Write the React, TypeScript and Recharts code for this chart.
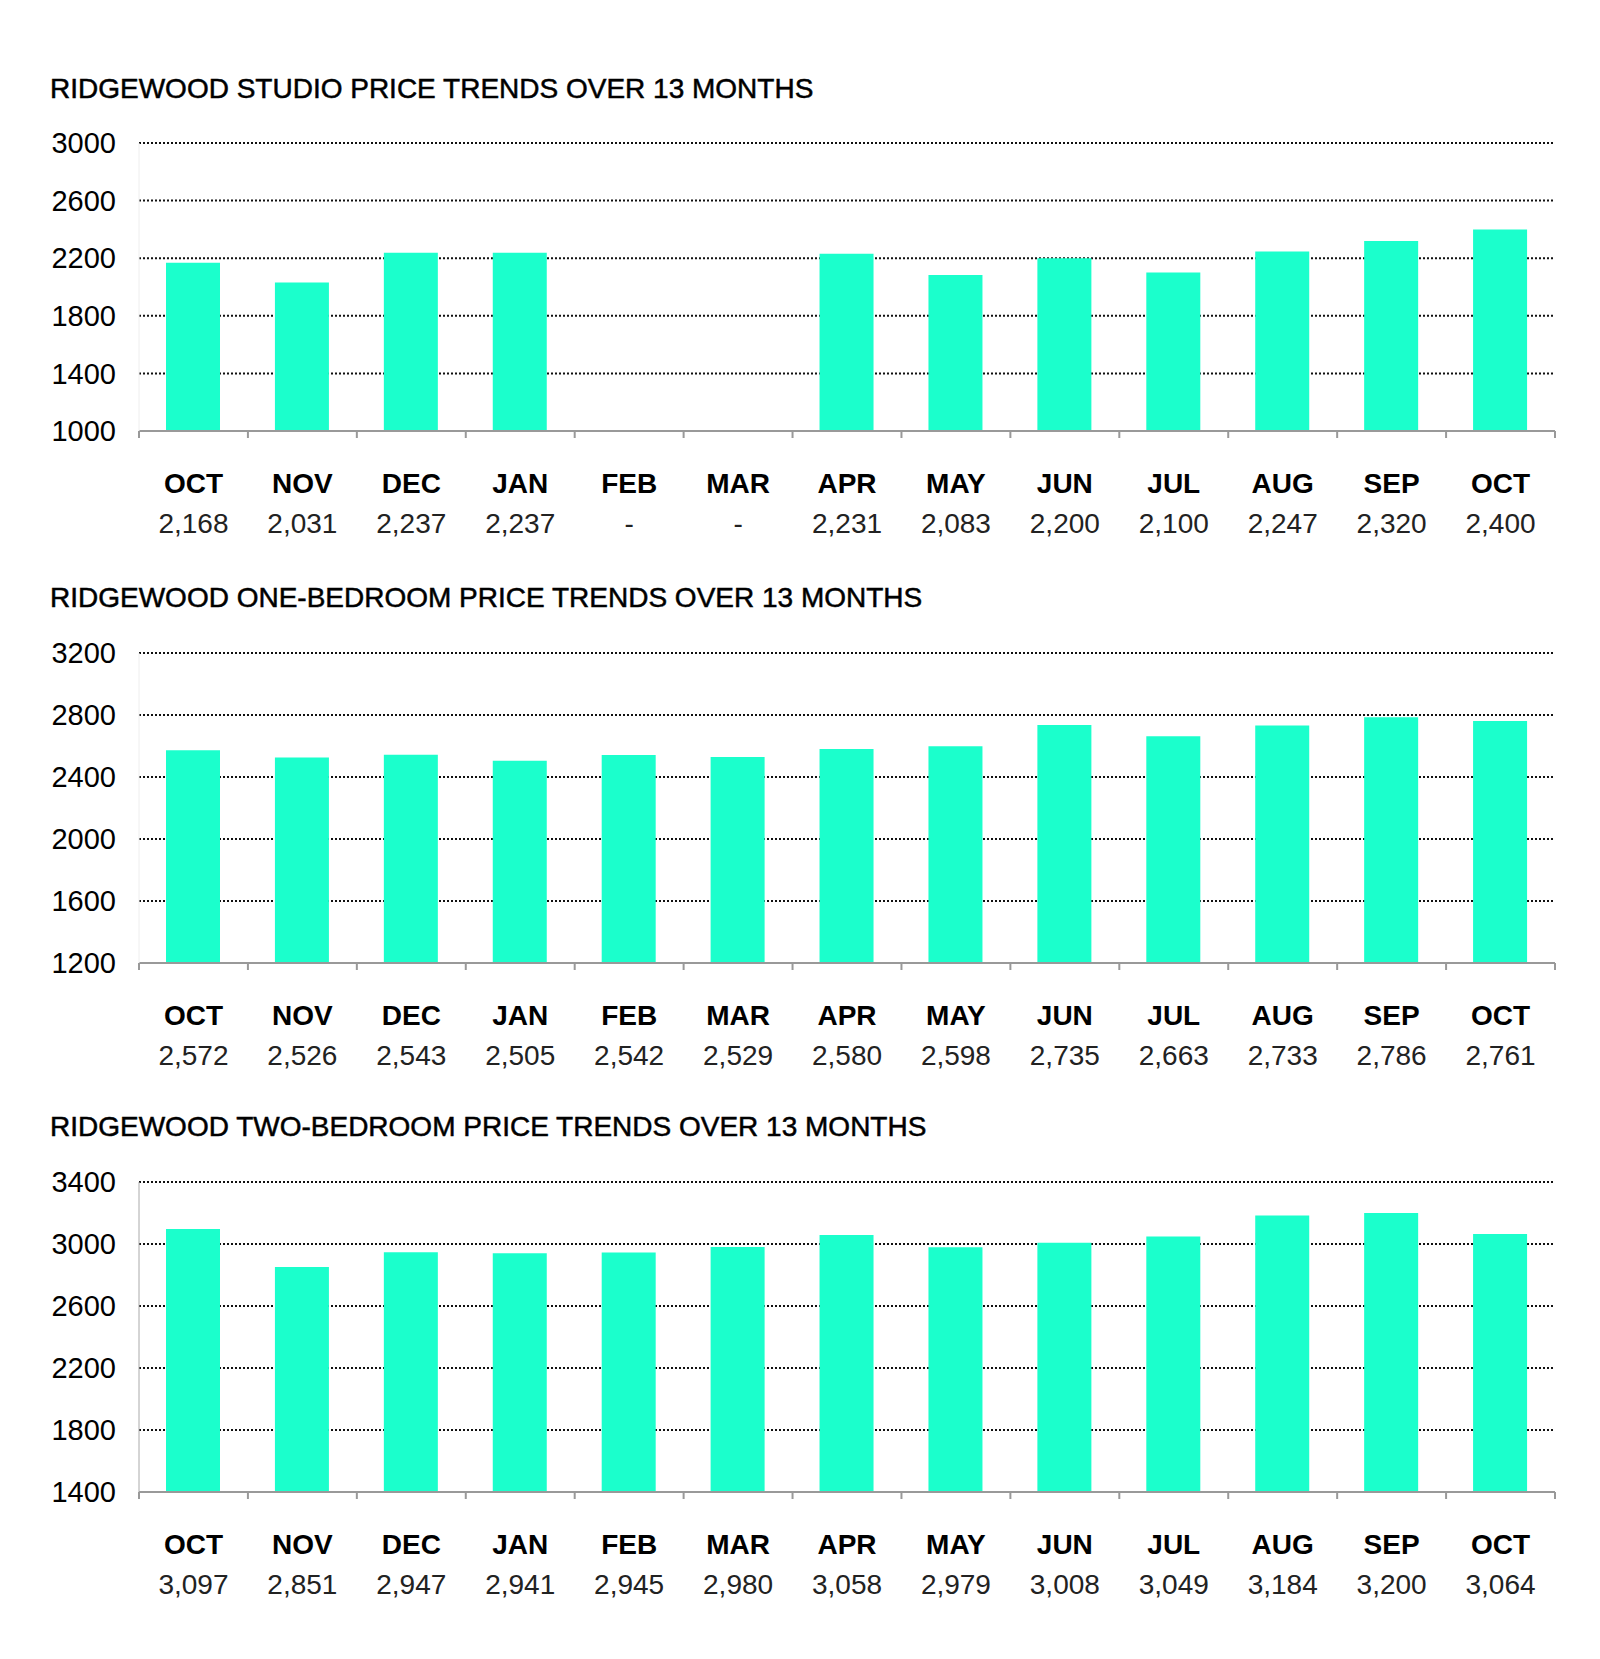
import React from "react";
import { BarChart, Bar, XAxis, YAxis, CartesianGrid } from "recharts";

const months = ["OCT", "NOV", "DEC", "JAN", "FEB", "MAR", "APR", "MAY", "JUN", "JUL", "AUG", "SEP", "OCT"];
const studioValues: (number | null)[] = [2168, 2031, 2237, 2237, null, null, 2231, 2083, 2200, 2100, 2247, 2320, 2400];
const oneBedValues: (number | null)[] = [2572, 2526, 2543, 2505, 2542, 2529, 2580, 2598, 2735, 2663, 2733, 2786, 2761];
const twoBedValues: (number | null)[] = [3097, 2851, 2947, 2941, 2945, 2980, 3058, 2979, 3008, 3049, 3184, 3200, 3064];

const studioTicks = [1000, 1400, 1800, 2200, 2600, 3000];
const oneBedTicks = [1200, 1600, 2000, 2400, 2800, 3200];
const twoBedTicks = [1400, 1800, 2200, 2600, 3000, 3400];

const titles = [
  "RIDGEWOOD STUDIO PRICE TRENDS OVER 13 MONTHS",
  "RIDGEWOOD ONE-BEDROOM PRICE TRENDS OVER 13 MONTHS",
  "RIDGEWOOD TWO-BEDROOM PRICE TRENDS OVER 13 MONTHS",
];

const FONT = "'Liberation Sans', Arial, sans-serif";
const BAR_COLOR = "#1BFFCC";
const PLOT_LEFT = 139;
const PLOT_RIGHT = 1555;
const CHART_W = 1600;
const MARGIN_TOP = 24;
const XAXIS_H = 110;

const fmt = (v: number | null) => (v == null ? "-" : v.toLocaleString("en-US"));

const makeTick = (count: number) => (props: any) => {
  const { x, y, payload, index } = props;
  const half =
    payload && typeof payload.offset === "number" && payload.offset > 0
      ? payload.offset
      : (PLOT_RIGHT - PLOT_LEFT) / count / 2;
  const [m, label] = String(payload.value).split("|");
  return (
    <g>
      <line x1={x - half} x2={x - half} y1={y} y2={y + 7} stroke="#999" strokeWidth={2} />
      {index === count - 1 && (
        <line x1={x + half} x2={x + half} y1={y} y2={y + 7} stroke="#999" strokeWidth={2} />
      )}
      <text x={x} y={y + 52} textAnchor="middle" dominantBaseline="central" fontFamily={FONT} fontWeight="bold" fontSize={28} fill="#000">
        {m}
      </text>
      <text x={x} y={y + 92} textAnchor="middle" dominantBaseline="central" fontFamily={FONT} fontSize={28} fill="#222">
        {label}
      </text>
    </g>
  );
};

type PanelProps = {
  title: string;
  values: (number | null)[];
  ticks: number[];
  titleY: number;
  gridTop: number;
  plotH: number;
  leftLine: string;
};

function Panel({ title, values, ticks, titleY, gridTop, plotH, leftLine }: PanelProps) {
  const data = months.map((m, i) => ({ key: `${m}|${fmt(values[i])}|${i}`, value: values[i] }));
  const domain: [number, number] = [ticks[0], ticks[ticks.length - 1]];
  const Tick = makeTick(months.length);
  return (
    <>
      <div
        style={{
          position: "absolute",
          left: 50,
          top: titleY - 20,
          height: 40,
          lineHeight: "40px",
          fontFamily: FONT,
          fontSize: 28,
          color: "#000",
          whiteSpace: "nowrap",
          WebkitTextStroke: "0.5px #000",
        }}
      >
        {title}
      </div>
      <div style={{ position: "absolute", left: 0, top: gridTop - MARGIN_TOP }}>
        <BarChart
          width={CHART_W}
          height={MARGIN_TOP + plotH + XAXIS_H}
          data={data}
          margin={{ top: MARGIN_TOP, right: CHART_W - PLOT_RIGHT, left: 0, bottom: 0 }}
        >
          <CartesianGrid yAxisId="left" vertical={false} stroke="#111" strokeDasharray="2 2" strokeWidth={2} />
          <XAxis
            dataKey="key"
            interval={0}
            tickLine={false}
            tickSize={0}
            tickMargin={0}
            height={XAXIS_H}
            axisLine={{ stroke: "#999", strokeWidth: 2 }}
            tick={<Tick />}
          />
          <YAxis
            yAxisId="left"
            width={PLOT_LEFT}
            domain={domain}
            ticks={ticks}
            allowDataOverflow
            interval={0}
            tickLine={false}
            tickSize={0}
            tickMargin={23}
            axisLine={{ stroke: leftLine, strokeWidth: 1 }}
            tick={{ fill: "#000", fontSize: 29, fontFamily: FONT }}
          />
          <YAxis
            yAxisId="right"
            orientation="right"
            width={0}
            domain={domain}
            tick={false}
            tickLine={false}
            axisLine={{ stroke: "#ddd", strokeWidth: 1 }}
          />
          <Bar yAxisId="left" dataKey="value" fill={BAR_COLOR} barSize={54} isAnimationActive={false} />
        </BarChart>
      </div>
    </>
  );
}

export default function App() {
  return (
    <div style={{ position: "absolute", left: 0, top: 0, width: 1600, height: 1659, background: "#fff" }}>
      <Panel title={titles[0]} values={studioValues} ticks={studioTicks} titleY={89} gridTop={143} plotH={288} leftLine="#eee" />
      <Panel title={titles[1]} values={oneBedValues} ticks={oneBedTicks} titleY={598} gridTop={653} plotH={310} leftLine="#eee" />
      <Panel title={titles[2]} values={twoBedValues} ticks={twoBedTicks} titleY={1127} gridTop={1182} plotH={310} leftLine="#aaa" />
    </div>
  );
}
